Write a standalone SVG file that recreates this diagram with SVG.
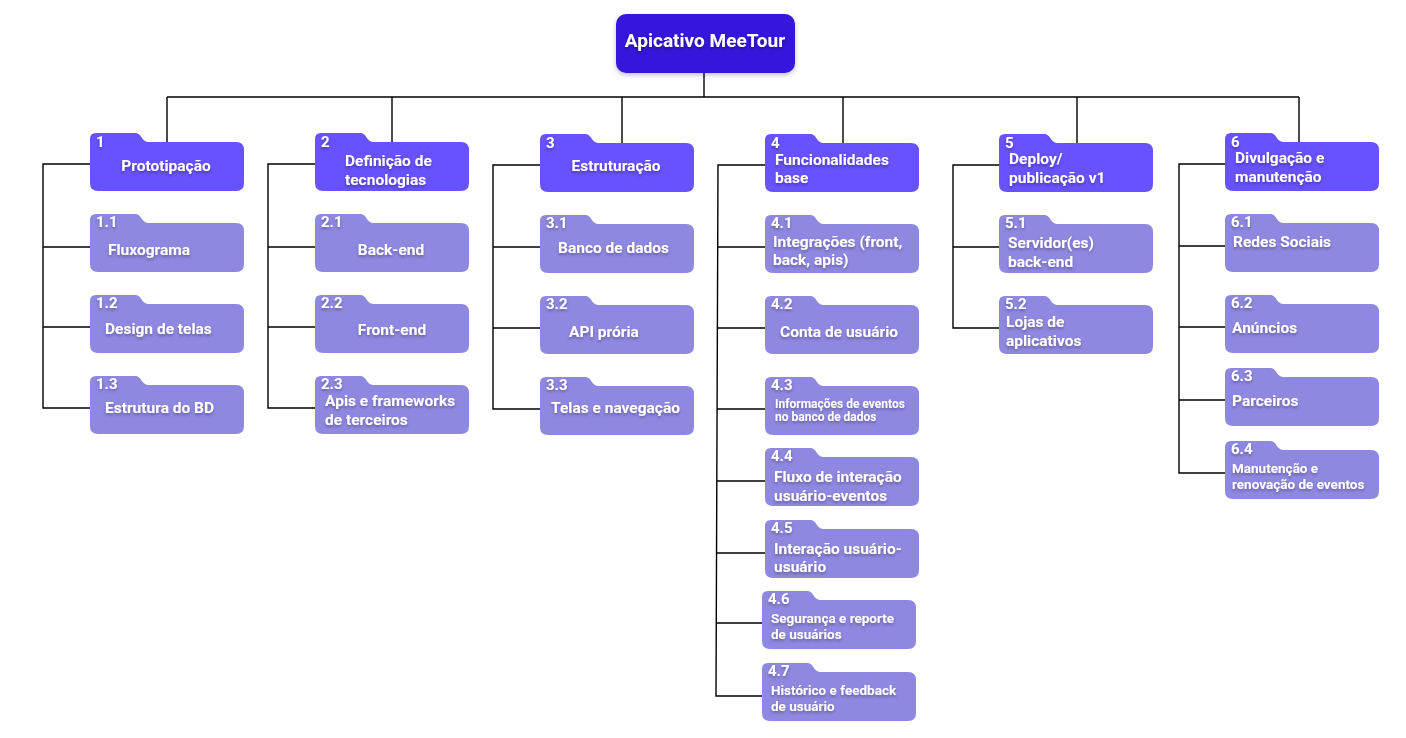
<svg xmlns="http://www.w3.org/2000/svg" xmlns:xlink="http://www.w3.org/1999/xlink" width="1406" height="738" viewBox="0 0 1406 738">
<style>
.bg{fill:#ffffff}
.conn{fill:none;stroke:#000000;stroke-width:1.4}
.root{fill:#3519DA;filter:url(#boxsh)}
.l1{fill:#6852FD}
.l2{fill:#8F88E0}
text{font-family:Roboto,"Noto Sans","Liberation Sans",sans-serif;font-weight:700;fill:#ffffff;filter:url(#tsh)}
.rt{font-size:19px;text-anchor:middle}
.num{font-size:15px}
.lb{font-size:15.5px}
.sm{font-size:12px}
.md{font-size:13.5px}
.c{text-anchor:middle}
</style>
<defs>
<filter id="tsh" x="-10%" y="-30%" width="120%" height="170%">
<feDropShadow dx="0" dy="2" stdDeviation="1.4" flood-color="#000" flood-opacity="0.3"/>
</filter>
<filter id="boxsh" x="-10%" y="-20%" width="120%" height="150%">
<feDropShadow dx="0" dy="2" stdDeviation="2.5" flood-color="#000" flood-opacity="0.25"/>
</filter>
<path id="folder" d="M0,6 Q0,0 6,0 H46 C51,0 52,9 58,9 H146 Q154,9 154,17 V50 Q154,58 146,58 H8 Q0,58 0,50 Z"/>
</defs>
<rect class="bg" x="0" y="0" width="1406" height="738"/>

<g id="connectors">
<path class="conn" d="M704,73 V97 M167,97 H1299 M167,97 V142 M392,97 V142 M622,97 V143 M843,97 V143 M1077,97 V143 M1299,97 V142"/>
<path class="conn" d="M90,164 H43 V408 H90 M43,247 H90 M43,327 H90"/>
<path class="conn" d="M315,164 H268 V408 H315 M268,247 H315 M268,327 H315"/>
<path class="conn" d="M540,165 H493 V409 H540 M493,247 H540 M493,328 H540"/>
<path class="conn" d="M765,165 H718 L716,696 H762 M718,247 H765 M718,328 H765 M717,409 H765 M717,481 H765 M717,553 H765 M716,623 H762"/>
<path class="conn" d="M999,165 H953 V328 H999 M953,247 H999"/>
<path class="conn" d="M1225,164 H1179 V473 H1225 M1179,246 H1225 M1179,327 H1225 M1179,400 H1225"/>
</g>

<g id="root">
<rect class="root" x="616" y="14" width="179" height="59" rx="10"/>
<text class="rt" x="705" y="47">Apicativo MeeTour</text>
</g>

<g id="n1">
<use class="l1" xlink:href="#folder" x="90" y="133"/>
<text class="num" x="96" y="147">1</text>
<text class="lb c" x="166" y="171">Prototipação</text>
</g>
<g id="n1-1">
<use class="l2" xlink:href="#folder" x="90" y="214"/>
<text class="num" x="96" y="227">1.1</text>
<text class="lb" x="108" y="255">Fluxograma</text>
</g>
<g id="n1-2">
<use class="l2" xlink:href="#folder" x="90" y="295"/>
<text class="num" x="96" y="308">1.2</text>
<text class="lb" x="105" y="334">Design de telas</text>
</g>
<g id="n1-3">
<use class="l2" xlink:href="#folder" x="90" y="376"/>
<text class="num" x="96" y="389">1.3</text>
<text class="lb" x="105" y="413">Estrutura do BD</text>
</g>

<g id="n2">
<use class="l1" xlink:href="#folder" x="315" y="133"/>
<text class="num" x="321" y="147">2</text>
<text class="lb" x="345" y="166">Definição de</text>
<text class="lb" x="345" y="185">tecnologias</text>
</g>
<g id="n2-1">
<use class="l2" xlink:href="#folder" x="315" y="214"/>
<text class="num" x="321" y="227">2.1</text>
<text class="lb c" x="391" y="255">Back-end</text>
</g>
<g id="n2-2">
<use class="l2" xlink:href="#folder" x="315" y="295"/>
<text class="num" x="321" y="308">2.2</text>
<text class="lb c" x="392" y="335">Front-end</text>
</g>
<g id="n2-3">
<use class="l2" xlink:href="#folder" x="315" y="376"/>
<text class="num" x="321" y="389">2.3</text>
<text class="lb" x="325" y="406">Apis e frameworks</text>
<text class="lb" x="325" y="425">de terceiros</text>
</g>

<g id="n3">
<use class="l1" xlink:href="#folder" x="540" y="134"/>
<text class="num" x="546" y="148">3</text>
<text class="lb c" x="616" y="171">Estruturação</text>
</g>
<g id="n3-1">
<use class="l2" xlink:href="#folder" x="540" y="215"/>
<text class="num" x="546" y="228">3.1</text>
<text class="lb" x="558" y="253">Banco de dados</text>
</g>
<g id="n3-2">
<use class="l2" xlink:href="#folder" x="540" y="296"/>
<text class="num" x="546" y="309">3.2</text>
<text class="lb" x="569" y="337">API prória</text>
</g>
<g id="n3-3">
<use class="l2" xlink:href="#folder" x="540" y="377"/>
<text class="num" x="546" y="390">3.3</text>
<text class="lb" x="551" y="413">Telas e navegação</text>
</g>

<g id="n4">
<use class="l1" xlink:href="#folder" x="765" y="134"/>
<text class="num" x="771" y="148">4</text>
<text class="lb" x="775" y="165">Funcionalidades</text>
<text class="lb" x="775" y="183">base</text>
</g>
<g id="n4-1">
<use class="l2" xlink:href="#folder" x="765" y="215"/>
<text class="num" x="771" y="228">4.1</text>
<text class="lb" x="773" y="247">Integrações (front,</text>
<text class="lb" x="773" y="265">back, apis)</text>
</g>
<g id="n4-2">
<use class="l2" xlink:href="#folder" x="765" y="296"/>
<text class="num" x="771" y="309">4.2</text>
<text class="lb" x="780" y="337">Conta de usuário</text>
</g>
<g id="n4-3">
<use class="l2" xlink:href="#folder" x="765" y="377"/>
<text class="num" x="771" y="390">4.3</text>
<text class="sm" x="775" y="408">Informações de eventos</text>
<text class="sm" x="775" y="421">no banco de dados</text>
</g>
<g id="n4-4">
<use class="l2" xlink:href="#folder" x="765" y="448"/>
<text class="num" x="771" y="461">4.4</text>
<text class="lb" x="774" y="482">Fluxo de interação</text>
<text class="lb" x="774" y="501">usuário-eventos</text>
</g>
<g id="n4-5">
<use class="l2" xlink:href="#folder" x="765" y="520"/>
<text class="num" x="771" y="533">4.5</text>
<text class="lb" x="774" y="554">Interação usuário-</text>
<text class="lb" x="774" y="572">usuário</text>
</g>
<g id="n4-6">
<use class="l2" xlink:href="#folder" x="762" y="591"/>
<text class="num" x="768" y="604">4.6</text>
<text class="md" x="771" y="623">Segurança e reporte</text>
<text class="md" x="771" y="639">de usuários</text>
</g>
<g id="n4-7">
<use class="l2" xlink:href="#folder" x="762" y="663"/>
<text class="num" x="768" y="676">4.7</text>
<text class="md" x="771" y="695">Histórico e feedback</text>
<text class="md" x="771" y="711">de usuário</text>
</g>

<g id="n5">
<use class="l1" xlink:href="#folder" x="999" y="134"/>
<text class="num" x="1005" y="148">5</text>
<text class="lb" x="1009" y="164">Deploy/</text>
<text class="lb" x="1009" y="183">publicação v1</text>
</g>
<g id="n5-1">
<use class="l2" xlink:href="#folder" x="999" y="215"/>
<text class="num" x="1005" y="228">5.1</text>
<text class="lb" x="1008" y="248">Servidor(es)</text>
<text class="lb" x="1008" y="267">back-end</text>
</g>
<g id="n5-2">
<use class="l2" xlink:href="#folder" x="999" y="296"/>
<text class="num" x="1005" y="309">5.2</text>
<text class="lb" x="1006" y="327">Lojas de</text>
<text class="lb" x="1006" y="346">aplicativos</text>
</g>

<g id="n6">
<use class="l1" xlink:href="#folder" x="1225" y="133"/>
<text class="num" x="1231" y="147">6</text>
<text class="lb" x="1235" y="163">Divulgação e</text>
<text class="lb" x="1235" y="182">manutenção</text>
</g>
<g id="n6-1">
<use class="l2" xlink:href="#folder" x="1225" y="214"/>
<text class="num" x="1231" y="227">6.1</text>
<text class="lb" x="1233" y="247">Redes Sociais</text>
</g>
<g id="n6-2">
<use class="l2" xlink:href="#folder" x="1225" y="295"/>
<text class="num" x="1231" y="308">6.2</text>
<text class="lb" x="1232" y="333">Anúncios</text>
</g>
<g id="n6-3">
<use class="l2" xlink:href="#folder" x="1225" y="368"/>
<text class="num" x="1231" y="381">6.3</text>
<text class="lb" x="1232" y="406">Parceiros</text>
</g>
<g id="n6-4">
<use class="l2" xlink:href="#folder" x="1225" y="441"/>
<text class="num" x="1231" y="454">6.4</text>
<text class="md" x="1232" y="473">Manutenção e</text>
<text class="md" x="1232" y="489">renovação de eventos</text>
</g>
</svg>
